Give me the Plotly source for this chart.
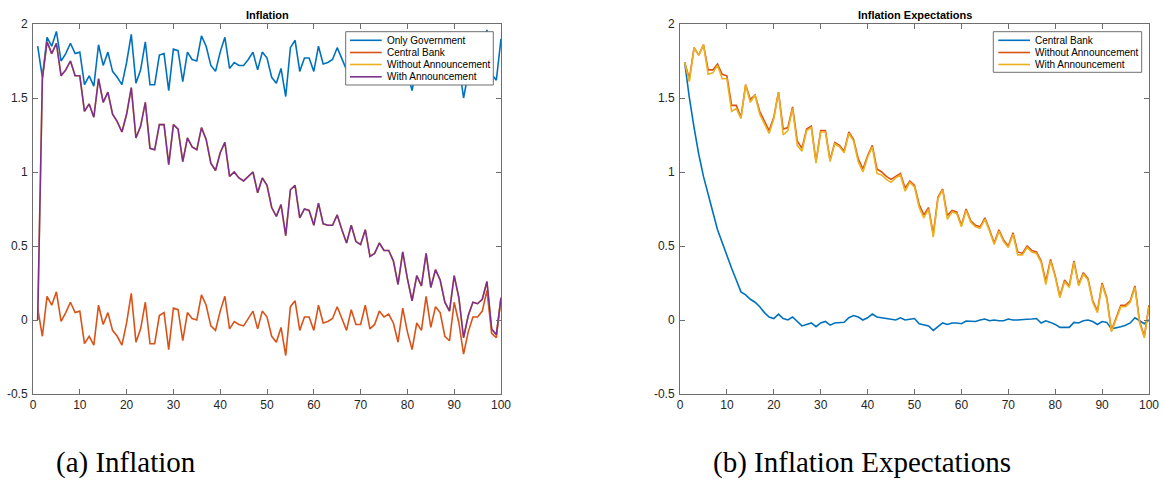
import plotly.graph_objects as go

t = list(range(1, 101))

# ---- Panel (a) Inflation ----
only_government = [
    1.85, 1.64, 1.91, 1.85, 1.95, 1.75, 1.80, 1.87, 1.80, 1.81,
    1.59, 1.65, 1.58, 1.86, 1.72, 1.81, 1.68, 1.64, 1.59, 1.74,
    1.93, 1.60, 1.69, 1.88, 1.59, 1.59, 1.79, 1.80, 1.55, 1.83,
    1.82, 1.61, 1.81, 1.76, 1.75, 1.92, 1.85, 1.72, 1.68, 1.81,
    1.91, 1.70, 1.74, 1.72, 1.72, 1.76, 1.81, 1.69, 1.81, 1.77,
    1.64, 1.60, 1.70, 1.51, 1.84, 1.89, 1.68, 1.77, 1.77, 1.68,
    1.85, 1.73, 1.74, 1.76, 1.84, 1.77, 1.69, 1.82, 1.72, 1.72,
    1.85, 1.69, 1.72, 1.81, 1.77, 1.79, 1.73, 1.60, 1.83, 1.67,
    1.55, 1.73, 1.68, 1.91, 1.70, 1.84, 1.80, 1.64, 1.61, 1.87,
    1.73, 1.50, 1.67, 1.77, 1.77, 1.81, 1.96, 1.66, 1.62, 1.90]

central_bank = [
    0.08, -0.11, 0.16, 0.10, 0.19, -0.01, 0.05, 0.12, 0.05, 0.06,
    -0.16, -0.11, -0.17, 0.10, -0.03, 0.05, -0.07, -0.11, -0.17, -0.02,
    0.18, -0.15, -0.06, 0.12, -0.16, -0.16, 0.03, 0.05, -0.20, 0.08,
    0.07, -0.14, 0.05, 0.01, 0.00, 0.17, 0.10, -0.04, -0.07, 0.06,
    0.16, -0.06, -0.01, -0.03, -0.04, 0.01, 0.06, -0.06, 0.06, 0.02,
    -0.11, -0.15, -0.05, -0.24, 0.09, 0.13, -0.07, 0.02, 0.02, -0.07,
    0.10, -0.02, -0.01, 0.01, 0.09, 0.01, -0.07, 0.07, -0.03, -0.03,
    0.10, -0.06, -0.03, 0.06, 0.02, 0.04, -0.02, -0.15, 0.08, -0.08,
    -0.20, -0.02, -0.07, 0.16, -0.05, 0.09, 0.05, -0.11, -0.14, 0.12,
    -0.02, -0.23, -0.08, 0.02, 0.02, 0.06, 0.20, -0.09, -0.12, 0.15]

without_announcement = [
    0.00, 1.63, 1.88, 1.80, 1.87, 1.65, 1.69, 1.75, 1.65, 1.65,
    1.41, 1.46, 1.37, 1.63, 1.47, 1.54, 1.39, 1.34, 1.27, 1.39,
    1.57, 1.23, 1.31, 1.47, 1.16, 1.15, 1.32, 1.32, 1.05, 1.32,
    1.29, 1.07, 1.23, 1.17, 1.15, 1.30, 1.22, 1.06, 1.01, 1.13,
    1.20, 0.97, 1.00, 0.96, 0.94, 0.97, 1.00, 0.86, 0.96, 0.91,
    0.76, 0.70, 0.78, 0.57, 0.88, 0.91, 0.69, 0.75, 0.74, 0.64,
    0.79, 0.65, 0.64, 0.64, 0.71, 0.61, 0.52, 0.64, 0.53, 0.51,
    0.61, 0.43, 0.45, 0.52, 0.47, 0.47, 0.40, 0.24, 0.46, 0.28,
    0.13, 0.30, 0.23, 0.45, 0.22, 0.34, 0.27, 0.12, 0.06, 0.30,
    0.15, -0.12, 0.03, 0.12, 0.11, 0.14, 0.26, -0.06, -0.10, 0.15]

with_announcement = [
    0.00, 1.63, 1.88, 1.80, 1.87, 1.65, 1.69, 1.75, 1.65, 1.65,
    1.41, 1.46, 1.37, 1.63, 1.47, 1.54, 1.39, 1.34, 1.27, 1.39,
    1.57, 1.23, 1.31, 1.47, 1.16, 1.15, 1.32, 1.32, 1.05, 1.32,
    1.29, 1.07, 1.23, 1.17, 1.15, 1.30, 1.22, 1.06, 1.01, 1.13,
    1.20, 0.97, 1.00, 0.96, 0.94, 0.97, 1.00, 0.86, 0.96, 0.91,
    0.76, 0.70, 0.78, 0.57, 0.88, 0.91, 0.69, 0.75, 0.74, 0.64,
    0.79, 0.65, 0.64, 0.64, 0.71, 0.61, 0.52, 0.64, 0.53, 0.51,
    0.61, 0.43, 0.45, 0.52, 0.47, 0.47, 0.40, 0.24, 0.46, 0.28,
    0.13, 0.30, 0.23, 0.45, 0.22, 0.34, 0.27, 0.12, 0.06, 0.30,
    0.15, -0.12, 0.03, 0.12, 0.11, 0.14, 0.26, -0.06, -0.10, 0.15]

# ---- Panel (b) Inflation Expectations ----
cb_expectations = [
    1.74, 1.50, 1.30, 1.12, 0.97, 0.84, 0.73, 0.61, 0.52, 0.44,
    0.35, 0.27, 0.19, 0.17, 0.14, 0.12, 0.09, 0.05, 0.02, 0.01,
    0.04, 0.01, 0.00, 0.02, -0.01, -0.04, -0.03, -0.02, -0.045, -0.02,
    -0.01, -0.035, -0.02, -0.02, -0.015, 0.015, 0.03, 0.02, 0.00, 0.015,
    0.04, 0.02, 0.015, 0.01, 0.00, 0.00, 0.015, 0.00, 0.005, 0.01,
    -0.025, -0.035, -0.04, -0.07, -0.045, -0.02, -0.03, -0.02, -0.02, -0.025,
    -0.007, -0.01, -0.01, 0.00, 0.007, -0.005, 0.00, -0.005, -0.005, 0.007,
    0.00, 0.00, 0.00, 0.005, 0.007, 0.01, -0.02, -0.005, -0.016, -0.03,
    -0.05, -0.05, -0.05, -0.016, -0.02, -0.005, 0.00, -0.01, -0.03, -0.01,
    -0.016, -0.06, -0.055, -0.045, -0.035, -0.02, 0.015, -0.005, -0.025, 0.00]

exp_without_announcement = [
    1.74, 1.63, 1.84, 1.79, 1.86, 1.69, 1.69, 1.73, 1.66, 1.65,
    1.45, 1.45, 1.37, 1.59, 1.49, 1.52, 1.41, 1.35, 1.28, 1.37,
    1.54, 1.29, 1.30, 1.44, 1.21, 1.16, 1.29, 1.31, 1.07, 1.28,
    1.28, 1.08, 1.20, 1.18, 1.14, 1.27, 1.22, 1.09, 1.02, 1.11,
    1.18, 1.02, 1.00, 0.97, 0.95, 0.97, 0.99, 0.89, 0.94, 0.91,
    0.78, 0.71, 0.76, 0.58, 0.83, 0.885, 0.705, 0.74, 0.73, 0.64,
    0.75, 0.67, 0.64, 0.63, 0.69, 0.61, 0.52, 0.61, 0.54, 0.50,
    0.59, 0.46, 0.45, 0.50, 0.47, 0.46, 0.40, 0.26, 0.41, 0.30,
    0.16, 0.27, 0.23, 0.40, 0.24, 0.32, 0.28, 0.13, 0.06, 0.25,
    0.15, -0.07, 0.01, 0.10, 0.10, 0.13, 0.23, -0.01, -0.11, 0.10]

exp_with_announcement = [
    1.74, 1.61, 1.84, 1.79, 1.86, 1.66, 1.67, 1.72, 1.63, 1.63,
    1.41, 1.43, 1.36, 1.59, 1.47, 1.52, 1.39, 1.33, 1.26, 1.36,
    1.54, 1.25, 1.28, 1.43, 1.18, 1.14, 1.28, 1.30, 1.06, 1.27,
    1.27, 1.07, 1.19, 1.17, 1.13, 1.26, 1.21, 1.07, 1.00, 1.10,
    1.17, 0.99, 0.98, 0.95, 0.93, 0.96, 0.98, 0.87, 0.93, 0.90,
    0.76, 0.69, 0.75, 0.56, 0.82, 0.88, 0.68, 0.73, 0.72, 0.63,
    0.74, 0.66, 0.63, 0.62, 0.68, 0.60, 0.51, 0.60, 0.53, 0.49,
    0.58, 0.44, 0.44, 0.49, 0.46, 0.45, 0.39, 0.24, 0.40, 0.29,
    0.15, 0.26, 0.22, 0.39, 0.23, 0.31, 0.27, 0.12, 0.05, 0.24,
    0.14, -0.08, 0.00, 0.09, 0.09, 0.12, 0.22, -0.02, -0.12, 0.09]

x_ticks = [0, 10, 20, 30, 40, 50, 60, 70, 80, 90, 100]
y_ticks = [-0.5, 0, 0.5, 1, 1.5, 2]
y_tick_text = ["-0.5", "0", "0.5", "1", "1.5", "2"]

panel_a_names = ["Only Government", "Central Bank", "Without Announcement", "With Announcement"]
panel_b_names = ["Central Bank", "Without Announcement", "With Announcement"]

BLUE, ORANGE, YELLOW, PURPLE = "#0072BD", "#D95319", "#EDB120", "#7E2F8E"
panel_a_colors = [BLUE, ORANGE, YELLOW, PURPLE]
panel_b_colors = [BLUE, ORANGE, YELLOW]
LW = 1.6

fig = go.Figure()
for name, ys, col in zip(panel_a_names,
                         [only_government, central_bank, without_announcement, with_announcement],
                         panel_a_colors):
    fig.add_trace(go.Scatter(x=t, y=ys, name=name, mode="lines", showlegend=False,
                             line=dict(color=col, width=LW), xaxis="x", yaxis="y"))
for name, ys, col in zip(panel_b_names,
                         [cb_expectations, exp_without_announcement, exp_with_announcement],
                         panel_b_colors):
    fig.add_trace(go.Scatter(x=t, y=ys, name=name, mode="lines", showlegend=False,
                             line=dict(color=col, width=LW), xaxis="x2", yaxis="y2"))

# Full-window figure; the page's default body margin is removed after drawing.
W, H = 1164, 491

def px(x):
    return x / W

def py(y):
    return 1 - y / H

AX_FONT = dict(family="Liberation Sans, Arial, sans-serif", size=12, color="#262626")
LINE_C = "#6e6e6e"

def xax(domain, anchor):
    return dict(domain=domain, anchor=anchor, range=[0, 100], tickvals=x_ticks,
                ticktext=[str(v) for v in x_ticks], ticks="inside", ticklen=5,
                tickcolor=LINE_C, showline=True, linecolor=LINE_C, linewidth=1,
                mirror="ticks", showgrid=False, zeroline=False, tickfont=AX_FONT,
                automargin=False, fixedrange=True, ticklabeloverflow="allow")

def yax(domain, anchor):
    return dict(domain=domain, anchor=anchor, range=[-0.5, 2], tickvals=y_ticks,
                ticktext=y_tick_text, ticks="inside", ticklen=5,
                tickcolor=LINE_C, showline=True, linecolor=LINE_C, linewidth=1,
                mirror="ticks", showgrid=False, zeroline=False, tickfont=AX_FONT,
                automargin=False, fixedrange=True, ticklabelstandoff=2,
                ticklabeloverflow="allow")

ydom = [py(394), py(24)]

shapes = []
annotations = []

# Legends drawn as boxes with line samples and labels (MATLAB-style compact legend)
def add_legend(box, line_x0, line_x1, text_x, ys, names, colors):
    x0, y0, x1, y1 = box
    shapes.append(dict(type="rect", xref="paper", yref="paper",
                       x0=px(x0), x1=px(x1), y0=py(y1), y1=py(y0),
                       line=dict(color=LINE_C, width=1), fillcolor="white", layer="above"))
    for yy, name, col in zip(ys, names, colors):
        shapes.append(dict(type="line", xref="paper", yref="paper",
                           x0=px(line_x0), x1=px(line_x1), y0=py(yy), y1=py(yy),
                           line=dict(color=col, width=LW), layer="above"))
        annotations.append(dict(text=name, x=px(text_x), y=py(yy), xref="paper", yref="paper",
                                xanchor="left", yanchor="middle", showarrow=False,
                                font=dict(family="Liberation Sans, Arial, sans-serif",
                                          size=10, color="#000000")))

add_legend((345.7, 31.7, 493.3, 85.0), 350, 381.7, 385, [40.3, 52.5, 64.5, 76.8],
           panel_a_names, panel_a_colors)
add_legend((993.3, 31.7, 1141.7, 72.3), 998.3, 1030, 1032.5, [40.3, 52.5, 64.5],
           panel_b_names, panel_b_colors)

TITLE_FONT = dict(family="Liberation Sans, Arial, sans-serif", size=11, color="black")
annotations += [
    dict(text="<b>Inflation</b>", x=px(267), y=py(15), xref="paper", yref="paper",
         xanchor="center", yanchor="middle", showarrow=False, font=TITLE_FONT),
    dict(text="<b>Inflation Expectations</b>", x=px(914.5), y=py(15), xref="paper",
         yref="paper", xanchor="center", yanchor="middle", showarrow=False, font=TITLE_FONT),
    dict(text="(a) Inflation", x=px(54), y=py(462), xref="paper", yref="paper",
         xanchor="left", yanchor="middle", showarrow=False,
         font=dict(family="Liberation Serif, DejaVu Serif, serif", size=29, color="black")),
    dict(text="(b) Inflation Expectations", x=px(711), y=py(462), xref="paper",
         yref="paper", xanchor="left", yanchor="middle", showarrow=False,
         font=dict(family="Liberation Serif, DejaVu Serif, serif", size=29, color="black")),
]

fig.update_layout(
    width=W, height=H,
    margin=dict(l=0, r=0, t=0, b=0),
    paper_bgcolor="white", plot_bgcolor="white",
    xaxis=xax([px(33), px(501)], "y"),
    yaxis=yax(ydom, "x"),
    xaxis2=xax([px(680), px(1149)], "y2"),
    yaxis2=yax(ydom, "x2"),
    showlegend=False,
    shapes=shapes,
    annotations=annotations,
)

fig.write_html("out.html",
               config={"displayModeBar": False},
               post_script="document.body.style.margin='0px';"
                           "document.body.style.overflow='hidden';")
